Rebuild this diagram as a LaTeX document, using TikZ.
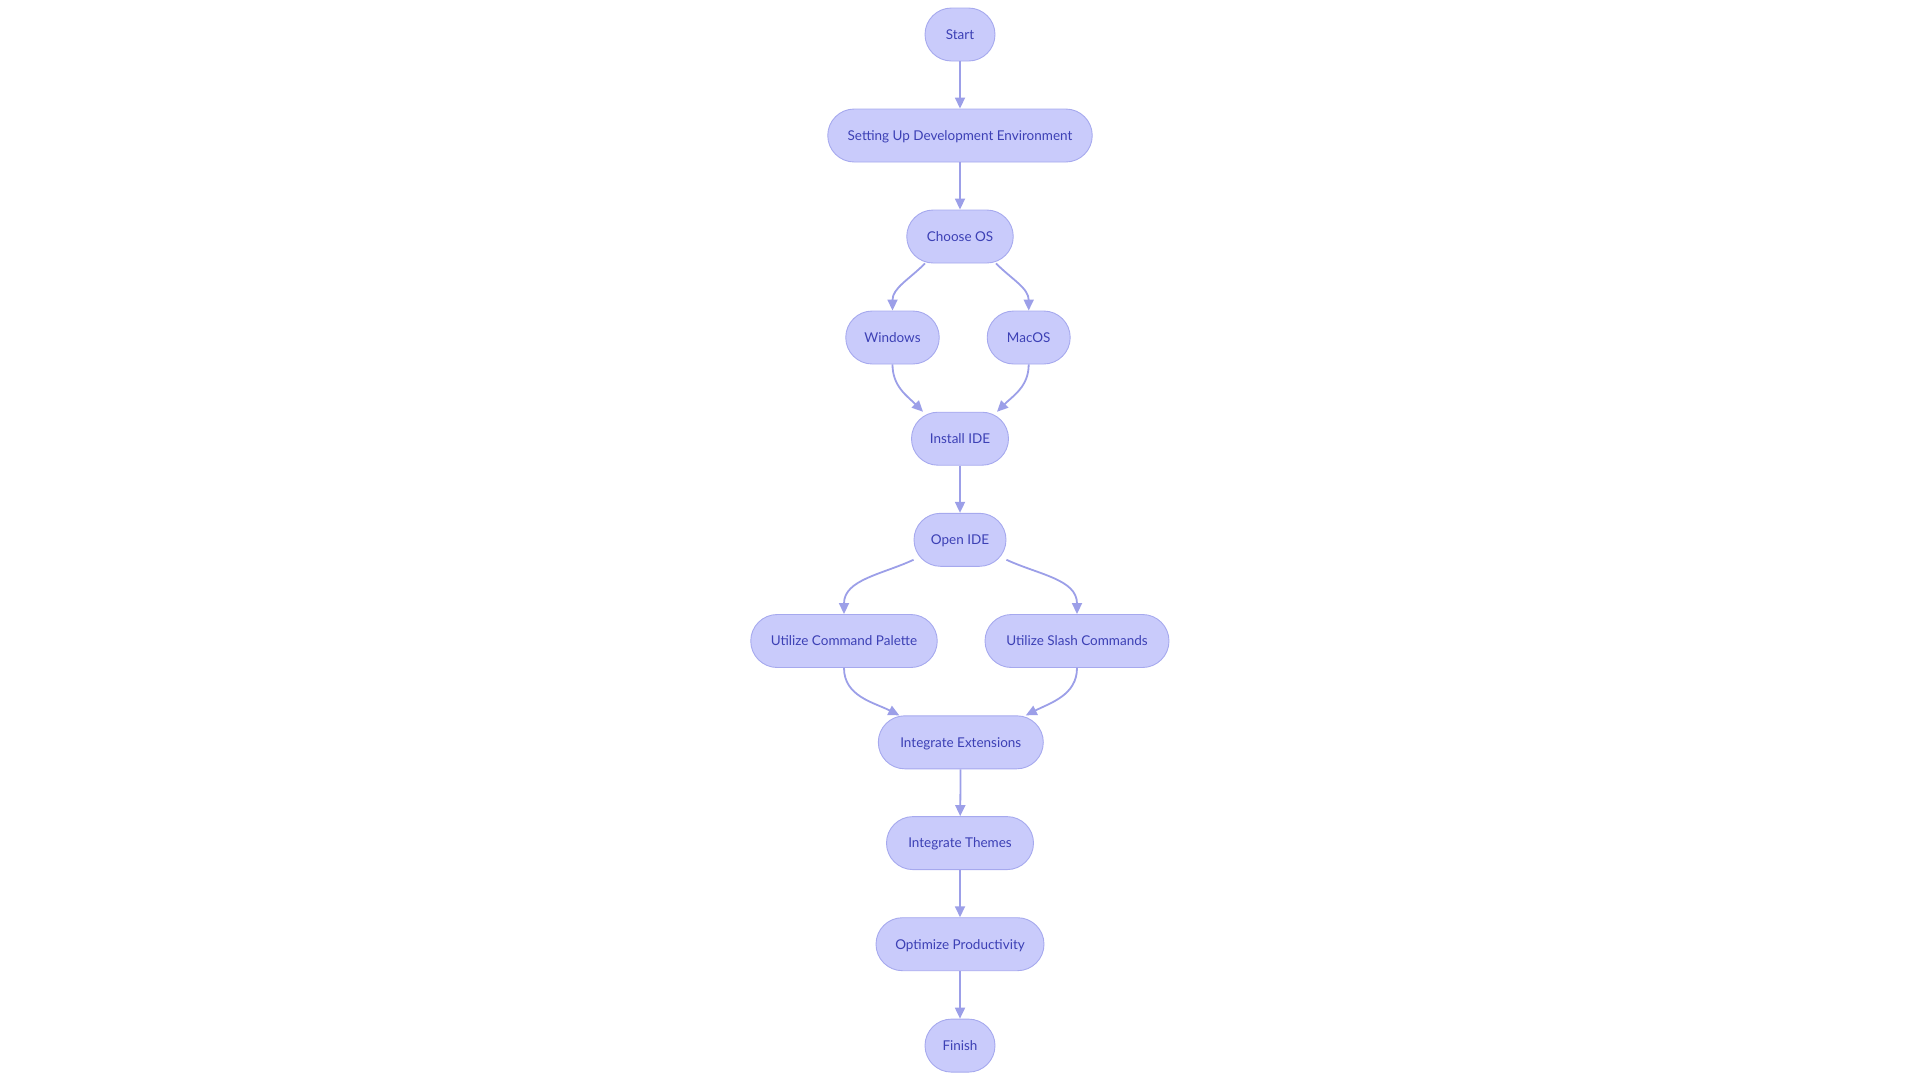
\documentclass[tikz,border=0pt]{standalone}
\usepackage{fontspec}
\setmainfont{Lato}
\usetikzlibrary{arrows.meta}
\definecolor{nodefill}{HTML}{C9CBFB}
\definecolor{nodeline}{HTML}{A6A9EE}
\definecolor{nodetext}{HTML}{3C40B5}
\definecolor{edgecol}{HTML}{9C9FE8}
\tikzset{
  flow/.style={draw=nodeline, line width=0.9pt, fill=nodefill, text=nodetext,
    rounded corners=26.5pt, minimum height=53pt, inner sep=0pt,
    text height=9.7pt, text depth=0pt,
    font=\fontsize{13.5}{16}\selectfont},
  link/.style={draw=edgecol, line width=1.8pt, -{Triangle[length=11pt,width=10pt]}}
}
\begin{document}
\begin{tikzpicture}[x=1pt,y=1pt]
\useasboundingbox (0,0) rectangle (1920,-1080);
\node[flow, minimum width=70pt]    (start)  at (960,-34.5)   {Start};
\node[flow, minimum width=264.5pt] (setup)  at (960,-135.5)  {Setting Up Development Environment};
\node[flow, minimum width=106.5pt] (choose) at (960,-236.5)  {Choose OS};
\node[flow, minimum width=93.5pt]  (win)    at (892.5,-337.5) {Windows};
\node[flow, minimum width=83pt]    (mac)    at (1028.7,-337.5) {MacOS};
\node[flow, minimum width=97pt]    (inst)   at (960,-438.7)  {Install IDE};
\node[flow, minimum width=92pt]    (open)   at (960,-539.8)  {Open IDE};
\node[flow, minimum width=186.5pt] (ucp)    at (844,-641)    {Utilize Command Palette};
\node[flow, minimum width=184pt]   (usc)    at (1077,-641)   {Utilize Slash Commands};
\node[flow, minimum width=165pt]   (iext)   at (960.8,-742.3) {Integrate Extensions};
\node[flow, minimum width=147pt]   (ithm)   at (960,-843.1)  {Integrate Themes};
\node[flow, minimum width=168pt]   (opt)    at (960,-944.2)  {Optimize Productivity};
\node[flow, minimum width=70pt]    (fin)    at (960,-1045.6) {Finish};

\draw[link] (start) -- (setup);
\draw[link] (setup) -- (choose);
\draw[link] ([xshift=-35pt]choose.south) to[out=-135,in=90] (win.north);
\draw[link] ([xshift=36pt]choose.south) to[out=-45,in=90] (mac.north);
\draw[link] (win.south) to[out=-90,in=135] ([xshift=-37pt]inst.north);
\draw[link] (mac.south) to[out=-90,in=45] ([xshift=37pt]inst.north);
\draw[link] (inst) -- (open);
\draw[link] ([yshift=7pt]open.south west) to[out=-155,in=90] (ucp.north);
\draw[link] ([yshift=7pt]open.south east) to[out=-25,in=90] (usc.north);
\draw[link] (ucp.south) to[out=-90,in=153] ([xshift=-61.5pt]iext.north);
\draw[link] (usc.south) to[out=-90,in=27] ([xshift=65pt]iext.north);
\draw[link] (iext) -- (ithm);
\draw[link] (ithm) -- (opt);
\draw[link] (opt) -- (fin);
\end{tikzpicture}
\end{document}
